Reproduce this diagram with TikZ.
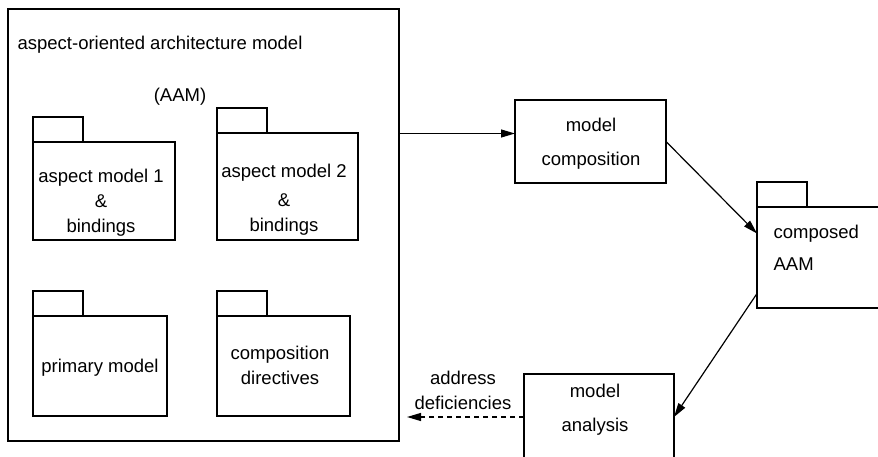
\documentclass[tikz,border=0pt]{standalone}
\usepackage{fontspec}
\setmainfont{Liberation Sans}
\usetikzlibrary{positioning,arrows.meta}
\tikzset{box/.style={draw,inner sep=0pt,outer sep=0pt,anchor=north west}}
\tikzset{pkgtab/.style={draw,inner sep=0pt,outer sep=0pt,minimum width=50,minimum height=25,anchor=south west}}
\tikzset{lbl/.style={align=center,inner sep=0pt}}
\tikzset{flow/.style={-{Triangle[length=14pt,width=8pt]}}}

\begin{document}
\begin{tikzpicture}[x=1pt,y=-1pt,line width=1.2pt,font=\fontsize{18.5}{25}\selectfont]
        \useasboundingbox (0,0) rectangle (878,457);
        %AAM
        \node[box,minimum width=391,minimum height=432] (aam) at (8,9) {};
        \node[lbl,anchor=west] (aamtitle) at (17,45) {aspect-oriented architecture model};
        \node[lbl] (aamabbr) at (180,97) {(AAM)};
        %%%%%%%%%%%%%%%%%%%%%% PACKAGES %%%%%%%%%%%%%%%%%%%%%%
        \node[box,minimum width=142,minimum height=98] (am1) at (33,142) {};
        \node[pkgtab] (am1tab) at (am1.north west) {};
        \node[lbl] (am1txt) at (101,203) {aspect model 1\\ \&\\ bindings};
        \node[box,minimum width=141,minimum height=107] (am2) at (217,133) {};
        \node[pkgtab] (am2tab) at (am2.north west) {};
        \node[lbl] (am2txt) at (284,200) {aspect model 2\\[4pt] \&\\ bindings};
        \node[box,minimum width=134,minimum height=100] (pm) at (33,316) {};
        \node[pkgtab] (pmtab) at (pm.north west) {};
        \node[lbl] (pmtxt) at (100,368) {primary model};
        \node[box,minimum width=133,minimum height=100] (cd) at (217,316) {};
        \node[pkgtab] (cdtab) at (cd.north west) {};
        \node[lbl] (cdtxt) at (280,365) {composition\\ directives};
        %Steps
        \node[box,minimum width=151,minimum height=83] (mc) at (515,100) {};
        \node[lbl] (mctxt) at (591,144) {model\\[9pt] composition};
        \node[box,minimum width=140,minimum height=101] (caam) at (757,207) {};
        \node[pkgtab] (caamtab) at (caam.north west) {};
        \node[lbl,align=left,anchor=north west] (caamtxt) at (773,224) {composed\\[7pt] AAM};
        \node[box,minimum width=150,minimum height=86] (ma) at (524,374) {};
        \node[lbl] (matxt) at (595,410) {model\\[9pt] analysis};
        %Arrows
        \coordinate (mcin) at ([yshift=8pt]mc.west);
        \coordinate (caamin) at ([yshift=24pt]caam.west);
        \coordinate (caamout) at ([yshift=-36pt]caam.west);
        \coordinate (fix) at ([xshift=8pt]aam.east |- ma.west);
        \draw[flow] (aam.east |- mcin) -- (mcin);
        \draw[flow] (mc.east) -- (caamin);
        \draw[flow] (caamout) -- (ma.east);
        \draw[flow,dash pattern=on 5pt off 4pt] (ma.west) -- (fix);
        \node[lbl] (addr) at (463,390) {address\\ deficiencies};
\end{tikzpicture}
\end{document}
